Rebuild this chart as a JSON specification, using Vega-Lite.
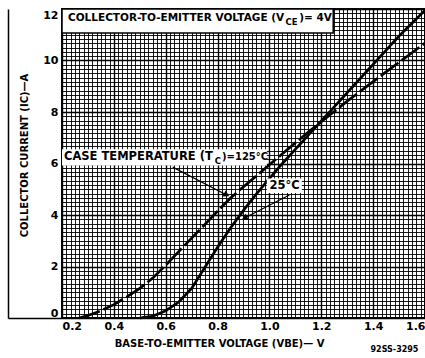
{
  "$schema": "https://vega.github.io/schema/vega-lite/v6.json",
  "width": 363,
  "height": 309,
  "autosize": "none",
  "padding": {"left": 62, "top": 9, "right": 0, "bottom": 40},
  "background": "white",
  "config": {"view": {"stroke": "black", "strokeWidth": 2}, "font": "DejaVu Sans"},
  "title": {"text": "92SS-3295", "orient": "bottom", "anchor": "end", "fontSize": 8, "fontWeight": "bold", "color": "black", "dx": -12, "offset": -2},
  "resolve": {"axis": {"y": "independent"}},
  "layer": [
    {
      "data": {"values": [
        {"series": "125°C", "V": 0.265, "I": 0},
        {"series": "125°C", "V": 0.30, "I": 0.10},
        {"series": "125°C", "V": 0.35, "I": 0.28},
        {"series": "125°C", "V": 0.40, "I": 0.52},
        {"series": "125°C", "V": 0.45, "I": 0.82},
        {"series": "125°C", "V": 0.50, "I": 1.15},
        {"series": "125°C", "V": 0.55, "I": 1.55},
        {"series": "125°C", "V": 0.60, "I": 2.05},
        {"series": "125°C", "V": 0.65, "I": 2.58},
        {"series": "125°C", "V": 0.70, "I": 3.10},
        {"series": "125°C", "V": 0.75, "I": 3.62},
        {"series": "125°C", "V": 0.80, "I": 4.15},
        {"series": "125°C", "V": 0.85, "I": 4.66},
        {"series": "125°C", "V": 0.90, "I": 5.10},
        {"series": "125°C", "V": 0.95, "I": 5.52},
        {"series": "125°C", "V": 1.00, "I": 5.95},
        {"series": "125°C", "V": 1.05, "I": 6.38},
        {"series": "125°C", "V": 1.10, "I": 6.80},
        {"series": "125°C", "V": 1.15, "I": 7.22},
        {"series": "125°C", "V": 1.20, "I": 7.62},
        {"series": "125°C", "V": 1.25, "I": 8.02},
        {"series": "125°C", "V": 1.30, "I": 8.42},
        {"series": "125°C", "V": 1.35, "I": 8.80},
        {"series": "125°C", "V": 1.40, "I": 9.18},
        {"series": "125°C", "V": 1.45, "I": 9.56},
        {"series": "125°C", "V": 1.50, "I": 9.93},
        {"series": "125°C", "V": 1.55, "I": 10.30},
        {"series": "125°C", "V": 1.60, "I": 10.68},
        {"series": "25°C", "V": 0.50, "I": 0},
        {"series": "25°C", "V": 0.55, "I": 0.07},
        {"series": "25°C", "V": 0.60, "I": 0.28},
        {"series": "25°C", "V": 0.65, "I": 0.62},
        {"series": "25°C", "V": 0.70, "I": 1.15},
        {"series": "25°C", "V": 0.75, "I": 1.95},
        {"series": "25°C", "V": 0.80, "I": 2.75},
        {"series": "25°C", "V": 0.85, "I": 3.50},
        {"series": "25°C", "V": 0.90, "I": 4.18},
        {"series": "25°C", "V": 0.95, "I": 4.82},
        {"series": "25°C", "V": 1.00, "I": 5.42},
        {"series": "25°C", "V": 1.05, "I": 6.00},
        {"series": "25°C", "V": 1.10, "I": 6.55},
        {"series": "25°C", "V": 1.15, "I": 7.10},
        {"series": "25°C", "V": 1.20, "I": 7.65},
        {"series": "25°C", "V": 1.25, "I": 8.20},
        {"series": "25°C", "V": 1.30, "I": 8.75},
        {"series": "25°C", "V": 1.35, "I": 9.30},
        {"series": "25°C", "V": 1.40, "I": 9.85},
        {"series": "25°C", "V": 1.45, "I": 10.40},
        {"series": "25°C", "V": 1.50, "I": 10.95},
        {"series": "25°C", "V": 1.55, "I": 11.45},
        {"series": "25°C", "V": 1.60, "I": 11.95}
      ]},
      "mark": {"type": "line", "strokeWidth": 2.7, "color": "black"},
      "encoding": {
        "x": {
          "field": "V", "type": "quantitative",
          "scale": {"domain": [0.2, 1.6], "nice": false, "zero": false},
          "axis": {
            "values": [0.2,0.2167,0.2333,0.25,0.2667,0.2833,0.3,0.3167,0.3333,0.35,0.3667,0.3833,0.4,0.4167,0.4333,0.45,0.4667,0.4833,0.5,0.5167,0.5333,0.55,0.5667,0.5833,0.6,0.6167,0.6333,0.65,0.6667,0.6833,0.7,0.7167,0.7333,0.75,0.7667,0.7833,0.8,0.8167,0.8333,0.85,0.8667,0.8833,0.9,0.9167,0.9333,0.95,0.9667,0.9833,1,1.0167,1.0333,1.05,1.0667,1.0833,1.1,1.1167,1.1333,1.15,1.1667,1.1833,1.2,1.2167,1.2333,1.25,1.2667,1.2833,1.3,1.3167,1.3333,1.35,1.3667,1.3833,1.4,1.4167,1.4333,1.45,1.4667,1.4833,1.5,1.5167,1.5333,1.55,1.5667,1.5833,1.6],
            "tickCount": 1000,
            "labelExpr": "abs(datum.value*5 - round(datum.value*5)) < 0.01 ? format(datum.value, '.1f') : ''",
            "labelOverlap": false,
            "labelFlush": false,
            "labelAlign": {"condition": [{"test": "datum.value < 0.21", "value": "left"}, {"test": "datum.value > 1.59", "value": "right"}], "value": "center"},
            "labelFontSize": 11, "labelFontWeight": "bold", "labelColor": "black", "labelPadding": 2,
            "ticks": false, "domain": false,
            "grid": true, "gridColor": "black", "gridOpacity": 1,
            "gridWidth": {"condition": {"test": "abs(datum.value*5 - round(datum.value*5)) < 0.01", "value": 1.4}, "value": 0.9},
            "title": "BASE-TO-EMITTER VOLTAGE (VBE)— V",
            "titleFontSize": 10, "titleFontWeight": "bold", "titleColor": "black",
            "titleX": 157, "titleY": 28, "titleBaseline": "alphabetic", "titleAlign": "center"
          }
        },
        "y": {
          "field": "I", "type": "quantitative",
          "scale": {"domain": [0, 12], "nice": false},
          "axis": {
            "orient": "left",
            "values": [0,0.1667,0.3333,0.5,0.6667,0.8333,1,1.1667,1.3333,1.5,1.6667,1.8333,2,2.1667,2.3333,2.5,2.6667,2.8333,3,3.1667,3.3333,3.5,3.6667,3.8333,4,4.1667,4.3333,4.5,4.6667,4.8333,5,5.1667,5.3333,5.5,5.6667,5.8333,6,6.1667,6.3333,6.5,6.6667,6.8333,7,7.1667,7.3333,7.5,7.6667,7.8333,8,8.1667,8.3333,8.5,8.6667,8.8333,9,9.1667,9.3333,9.5,9.6667,9.8333,10,10.1667,10.3333,10.5,10.6667,10.8333,11,11.1667,11.3333,11.5,11.6667,11.8333,12],
            "tickCount": 1000,
            "labelExpr": "abs(datum.value/2 - round(datum.value/2)) < 0.01 ? format(datum.value, 'd') : ''",
            "labelOverlap": false,
            "labelFlush": true,
            "labelFontSize": 11, "labelFontWeight": "bold", "labelColor": "black", "labelPadding": 4,
            "ticks": false, "domain": false,
            "grid": true, "gridColor": "black", "gridOpacity": 1,
            "gridWidth": {"condition": {"test": "abs(datum.value/2 - round(datum.value/2)) < 0.01", "value": 1.4}, "value": 0.9},
            "title": "COLLECTOR CURRENT (IC)—A",
            "titleFontSize": 10, "titleFontWeight": "bold", "titleColor": "black",
            "titleX": -35, "titleY": 146, "titleBaseline": "alphabetic", "titleAlign": "center", "titleAngle": 270
          }
        },
        "detail": {"field": "series"},
        "strokeDash": {"field": "series", "type": "nominal", "scale": {"domain": ["125°C", "25°C"], "range": [[22, 4], [1, 0]]}, "legend": null}
      }
    },
    {
      "data": {"values": [{"I": 0}]},
      "mark": {"type": "rule", "opacity": 0},
      "encoding": {
        "y": {
          "field": "I", "type": "quantitative",
          "axis": {
            "orient": "left", "offset": 54, "values": [0], "labels": false, "title": null, "grid": false,
            "domain": true, "domainColor": "black", "domainWidth": 1.5,
            "ticks": true, "tickSize": -54, "tickColor": "black", "tickWidth": 1.5
          }
        }
      }
    },
    {
      "data": {"values": [
        {"V0": 0.2, "V1": 1.246, "I0": 11.07, "I1": 12, "box": "top"}
      ]},
      "mark": {"type": "rect", "fill": "white", "stroke": "black", "strokeWidth": 1.5},
      "encoding": {
        "x": {"field": "V0", "type": "quantitative"},
        "x2": {"field": "V1"},
        "y": {"field": "I0", "type": "quantitative", "axis": null},
        "y2": {"field": "I1"}
      }
    },
    {
      "data": {"values": [
        {"V0": 0.2, "V1": 0.99, "I0": 5.92, "I1": 6.55, "box": "case"},
        {"V0": 0.99, "V1": 1.125, "I0": 4.85, "I1": 5.42, "box": "25"}
      ]},
      "mark": {"type": "rect", "fill": "white"},
      "encoding": {
        "x": {"field": "V0", "type": "quantitative"},
        "x2": {"field": "V1"},
        "y": {"field": "I0", "type": "quantitative", "axis": null},
        "y2": {"field": "I1"}
      }
    },
    {
      "data": {"values": [
        {"V": 0.627, "I": 5.86, "V2": 0.835, "I2": 4.78},
        {"V": 1.077, "I": 4.78, "V2": 0.904, "I2": 3.88}
      ]},
      "mark": {"type": "rule", "strokeWidth": 1.2, "color": "black"},
      "encoding": {
        "x": {"field": "V", "type": "quantitative"},
        "y": {"field": "I", "type": "quantitative", "axis": null},
        "x2": {"field": "V2"},
        "y2": {"field": "I2"}
      }
    },
    {
      "data": {"values": [{"V": 0.835, "I": 4.78}]},
      "mark": {"type": "point", "shape": "triangle-right", "angle": 27, "filled": true, "size": 45, "color": "black", "opacity": 1},
      "encoding": {"x": {"field": "V", "type": "quantitative"}, "y": {"field": "I", "type": "quantitative", "axis": null}}
    },
    {
      "data": {"values": [{"V": 0.904, "I": 3.88}]},
      "mark": {"type": "point", "shape": "triangle-left", "angle": -27, "filled": true, "size": 45, "color": "black", "opacity": 1},
      "encoding": {"x": {"field": "V", "type": "quantitative"}, "y": {"field": "I", "type": "quantitative", "axis": null}}
    },
    {
      "data": {"values": [
        {"V": 0.223, "I": 11.65, "t": "COLLECTOR-TO-EMITTER VOLTAGE (V"},
        {"V": 1.115, "I": 11.65, "t": ")= 4V"}
      ]},
      "mark": {"type": "text", "align": "left", "baseline": "middle", "fontSize": 10.5, "fontWeight": "bold", "color": "black"},
      "encoding": {"x": {"field": "V", "type": "quantitative"}, "y": {"field": "I", "type": "quantitative", "axis": null}, "text": {"field": "t"}}
    },
    {
      "data": {"values": [
        {"V": 0.2077, "I": 6.25, "t": "CASE TEMPERATURE (T"},
        {"V": 1.0, "I": 5.13, "t": "25°C"}
      ]},
      "mark": {"type": "text", "align": "left", "baseline": "middle", "fontSize": 11.5, "fontWeight": "bold", "color": "black"},
      "encoding": {"x": {"field": "V", "type": "quantitative"}, "y": {"field": "I", "type": "quantitative", "axis": null}, "text": {"field": "t"}}
    },
    {
      "data": {"values": [
        {"V": 0.817, "I": 6.25, "t": ")=125°C"}
      ]},
      "mark": {"type": "text", "align": "left", "baseline": "middle", "fontSize": 10, "fontWeight": "bold", "color": "black"},
      "encoding": {"x": {"field": "V", "type": "quantitative"}, "y": {"field": "I", "type": "quantitative", "axis": null}, "text": {"field": "t"}}
    },
    {
      "data": {"values": [
        {"V": 1.062, "I": 11.5, "t": "CE"},
        {"V": 0.789, "I": 6.1, "t": "C"}
      ]},
      "mark": {"type": "text", "align": "left", "baseline": "middle", "fontSize": 8.5, "fontWeight": "bold", "color": "black"},
      "encoding": {"x": {"field": "V", "type": "quantitative"}, "y": {"field": "I", "type": "quantitative", "axis": null}, "text": {"field": "t"}}
    }
  ]
}
